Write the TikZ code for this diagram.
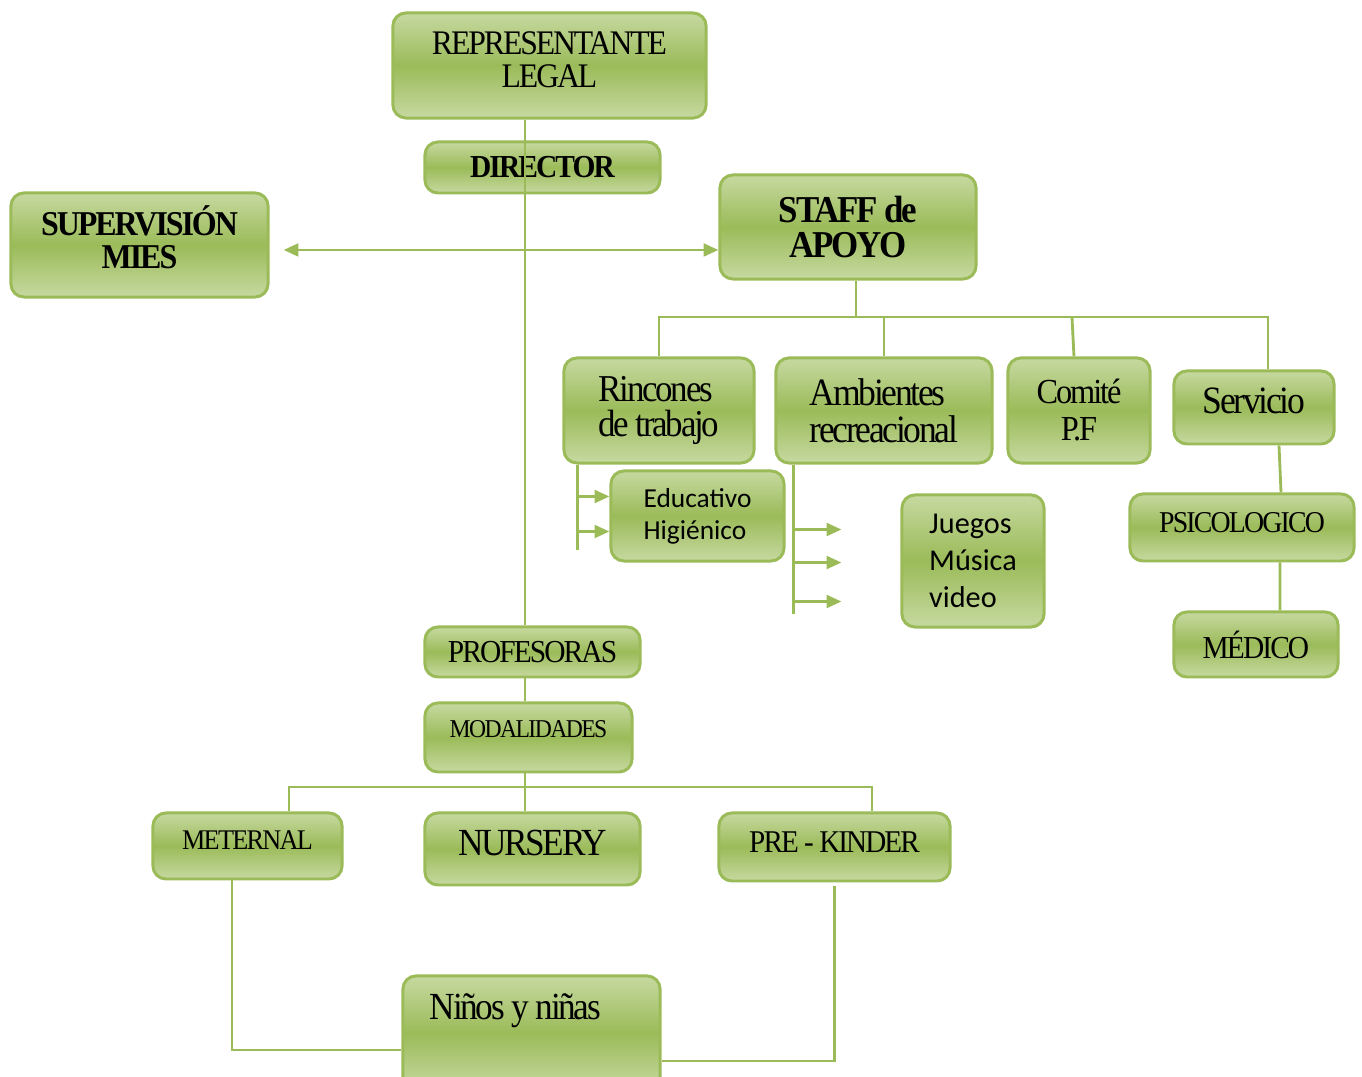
\documentclass[tikz,border=0pt]{standalone}
\usepackage{fontspec}
\setmainfont{Liberation Serif}[FakeStretch=0.92,LetterSpace=-6]
\newfontfamily\calibri{Carlito}
\usetikzlibrary{arrows.meta}
\definecolor{boxgreen}{HTML}{9BBB59}
\definecolor{boxlight}{HTML}{C6D9A0}
\newcommand\fsz[2]{\fontsize{#1}{#2}\selectfont}
\tikzset{
  orgbox/.style={draw=boxgreen, line width=0.85pt, rounded corners=0.13cm,
    top color=boxlight, bottom color=boxlight, middle color=boxgreen,
    inner sep=0pt, align=center},
  lift/.style={text depth=#1},
  link/.style={draw=boxgreen, line width=0.8pt},
}

\begin{document}
\begin{tikzpicture}[x=0.01cm,y=-0.01cm,>={Triangle[length=4.2pt,width=3.6pt]}]
  \useasboundingbox (0,0) rectangle (1362,1077);
  \coordinate (spine) at (525,0);
  \coordinate (hrow) at (0,250);

  \node[orgbox, minimum width=3.13cm, minimum height=1.05cm, lift=3.2pt, font=\fsz{9.8}{9.4}] (rep) at (549.5,65.5) {REPRESENTANTE\\LEGAL};
  \node[orgbox, minimum width=2.35cm, minimum height=0.51cm, font=\fsz{9.1}{9.1}\bfseries] (dir) at (542.5,167.5) {DIRECTOR};
  \node[orgbox, minimum width=2.57cm, minimum height=1.04cm, lift=4.6pt, font=\fsz{9.9}{9.4}\bfseries] (sup) at (139.5,245) {SUPERVISIÓN\\MIES};
  \node[orgbox, minimum width=2.56cm, minimum height=1.04cm, font=\fsz{10.8}{9.7}\bfseries] (staff) at (848,227) {STAFF de\\APOYO};

  \node[orgbox, minimum width=1.90cm, minimum height=1.05cm, align=left, font=\fsz{10.8}{10.2}] (rinc) at (659,410.5) {Rincones\\de trabajo};
  \node[orgbox, minimum width=2.16cm, minimum height=1.05cm, align=left, font=\fsz{11}{10.5}] (amb) at (884,410.5) {Ambientes\\recreacional};
  \node[orgbox, minimum width=1.42cm, minimum height=1.05cm, font=\fsz{10}{10.5}] (comite) at (1079,410.5) {Comité\\P.F};
  \node[orgbox, minimum width=1.60cm, minimum height=0.73cm, lift=3.7pt, font=\fsz{11}{11}] (serv) at (1254,407.5) {Servicio};
  \node[orgbox, minimum width=2.24cm, minimum height=0.67cm, lift=3.1pt, font=\fsz{8.6}{8.6}] (psico) at (1242,527.5) {PSICOLOGICO};
  \node[orgbox, minimum width=1.64cm, minimum height=0.65cm, font=\fsz{9.1}{9.1}] (medico) at (1256,644.5) {MÉDICO};
  \node[orgbox, minimum width=1.73cm, minimum height=0.90cm, align=left, font=\calibri\fsz{7.8}{9.1}] (educ) at (697.5,516) {Educativo\\Higiénico};
  \node[orgbox, minimum width=1.42cm, minimum height=1.32cm, align=left, font=\calibri\fsz{8.6}{10.5}] (juegos) at (973,561) {Juegos\\Música\\video};

  \node[orgbox, minimum width=2.15cm, minimum height=0.50cm, font=\fsz{9.1}{9.1}] (prof) at (532.5,652) {PROFESORAS};
  \node[orgbox, minimum width=2.07cm, minimum height=0.69cm, lift=5.1pt, font=\fsz{7.3}{7.3}] (modal) at (528.5,737.5) {MODALIDADES};
  \node[orgbox, minimum width=1.89cm, minimum height=0.66cm, lift=3.4pt, font=\fsz{8.1}{8.1}] (meter) at (247.5,846) {METERNAL};
  \node[orgbox, minimum width=2.15cm, minimum height=0.72cm, lift=3.4pt, font=\fsz{10.9}{10.9}] (nurs) at (532.5,849) {NURSERY};
  \node[orgbox, minimum width=2.31cm, minimum height=0.68cm, lift=2.6pt, font=\fsz{9}{9}] (pre) at (834.5,847) {PRE - KINDER};
  \node[orgbox, minimum width=2.57cm, minimum height=1.14cm, lift=14.8pt, font=\fsz{10.9}{10.9}] (ninos) at (531.5,1033) {\makebox[2.03cm][l]{Niños y niñas}};

  % top part
  \draw[link] (rep.south -| spine) -- (prof.north -| spine);
  \draw[link,<->] ([xshift=0.14cm]sup.east |- hrow) -- (staff.west |- hrow);
  \coordinate (busL) at (659,317);
  \coordinate (busR) at (1268,317);
  \draw[link] ([xshift=0.08cm]staff.south) -- ([xshift=0.08cm]staff.south |- busL);
  \draw[link] (rinc.north) -- (busL) -- (busR) -- (busR |- serv.north);
  \draw[link] (amb.north) -- (amb.north |- busL);
  \draw[link] ([xshift=-0.05cm]comite.north) -- ([xshift=-0.07cm]comite.north |- busL);
  \draw[link] ([xshift=0.25cm]serv.south) -- ([xshift=0.39cm]psico.north);
  \draw[link] ([xshift=0.38cm]psico.south) -- ([xshift=0.24cm]medico.north);

  % brackets
  \coordinate (rb) at ([xshift=0.15cm]rinc.south west);
  \draw[link] (rb) -- ++(0,85);
  \foreach \dy in {32,67}
    \draw[link,->] (rb) ++(0,\dy) coordinate (r\dy) -- (r\dy -| educ.west);
  \coordinate (ab) at ([xshift=0.19cm]amb.south west);
  \draw[link] (ab) -- ++(0,149);
  \foreach \dy in {65,98,137}
    \draw[link,->] (ab) ++(0,\dy) -- ++(48,0);

  % bottom part
  \draw[link] (prof.south -| spine) -- (modal.north -| spine);
  \draw[link] (modal.south -| spine) -- (nurs.north -| spine);
  \coordinate (bus2L) at (289,787);
  \coordinate (bus2R) at (872,787);
  \draw[link] (meter.north -| bus2L) -- (bus2L) -- (bus2R) -- (pre.north -| bus2R);
  \draw[link] ([xshift=-0.155cm]meter.south) |- ([yshift=-0.17cm]ninos.west);
  \draw[link] ([yshift=-0.04cm]pre.south) |- ([yshift=-0.28cm]ninos.east);
\end{tikzpicture}
\end{document}
